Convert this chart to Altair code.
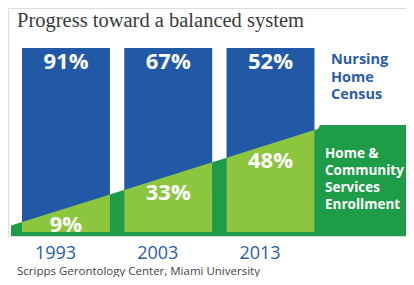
import altair as alt
import pandas as pd
import numpy as np

# ---- data ----
years = [1993, 2003, 2013]
nursing_pct = [91, 67, 52]
home_pct = [9, 33, 48]

# decorative rising band (year position, height in % of bar)
band_years = [1987.62, 2017.65, 2017.84, 2026.25]
band_values = [3.5, 56.0, 58.2, 58.2]

title_text = "Progress toward a balanced system"
source_text = "Scripps Gerontology Center, Miami University"
nursing_label = ["Nursing", "Home", "Census"]
home_label = ["Home &", "Community", "Services", "Enrollment"]

# ---- styling ----
BLUE = "#2159a6"
TEXT_BLUE = "#2a5caa"
DARK_GREEN = "#1e9c48"
LIGHT_GREEN = "#8cc63f"
HALF = 4.3
W, H = 398, 228
X_DOMAIN = [1987.33, 2026.25]
Y_DOMAIN = [-2.17, 121.74]
FONT = "Open Sans"

xs = alt.Scale(domain=X_DOMAIN, nice=False, zero=False)
ys = alt.Scale(domain=Y_DOMAIN, nice=False, zero=False)

bars = pd.DataFrame({"year": years, "nursing": nursing_pct, "home": home_pct,
                     "nl": [f"{v}%" for v in nursing_pct],
                     "hl": [f"{v}%" for v in home_pct]})
bars["left"] = bars["year"] - HALF
bars["right"] = bars["year"] + HALF
bars["line_c"] = np.interp(bars["year"], band_years, band_values)

band = pd.DataFrame({"year": band_years, "v": band_values})

rows = []
for y in years:
    for e in (y - HALF, y + HALF):
        rows.append({"bar": y, "x": e, "v": float(np.interp(e, band_years, band_values))})
inner = pd.DataFrame(rows)

xaxis = alt.Axis(values=years, format="d", domain=False, ticks=False, tickSize=0,
                 grid=False, labelColor=TEXT_BLUE, labelFontSize=18, labelFont=FONT,
                 labelPadding=8, labelOffset=-11, title=None)

dark = alt.Chart(band).mark_area(color=DARK_GREEN).encode(
    x=alt.X("year:Q", scale=xs, axis=xaxis),
    y=alt.Y("v:Q", scale=ys, axis=None, stack=None),
    y2=alt.value(H),
)

blue = alt.Chart(bars).mark_rect(color=BLUE).encode(
    x=alt.X("left:Q", scale=xs),
    x2="right:Q",
    y=alt.datum(100, scale=ys),
    y2=alt.datum(0),
)

light = alt.Chart(inner).mark_area(color=LIGHT_GREEN).encode(
    x=alt.X("x:Q", scale=xs),
    y=alt.Y("v:Q", scale=ys, stack=None),
    y2=alt.datum(0),
    detail="bar:N",
)

top_lbl = alt.Chart(bars).mark_text(color="white", font=FONT, fontWeight="bold",
                                    fontSize=22, baseline="middle", dy=14).encode(
    x=alt.X("year:Q", scale=xs),
    y=alt.datum(100, scale=ys),
    text="nl:N",
)

bot_lbl = alt.Chart(bars).mark_text(color="white", font=FONT, fontWeight="bold",
                                    fontSize=22, baseline="middle", dy=17).encode(
    x=alt.X("year:Q", scale=xs),
    y=alt.Y("line_c:Q", scale=ys),
    text="hl:N",
)

one = pd.DataFrame({"k": [0]})

title = alt.Chart(one).mark_text(font="Liberation Serif", fontSize=20.5, color="#3a3a3a",
                                 align="left", baseline="alphabetic").encode(
    x=alt.value(9), y=alt.value(19), text=alt.value(title_text))

source = alt.Chart(one).mark_text(font=FONT, fontSize=11.5, color="#444444",
                                  align="left", baseline="alphabetic").encode(
    x=alt.value(9), y=alt.value(266.5), text=alt.value(source_text))

nl = alt.Chart(one).mark_text(font=FONT, fontSize=14.5, fontWeight="bold", color=TEXT_BLUE,
                              align="left", baseline="top", lineHeight=17.5).encode(
    x=alt.value(323), y=alt.value(45), text=alt.value(nursing_label))

hl = alt.Chart(one).mark_text(font=FONT, fontSize=13.5, fontWeight="bold", color="white",
                              align="left", baseline="top", lineHeight=17).encode(
    x=alt.value(317), y=alt.value(139), text=alt.value(home_label))

chart = alt.layer(dark, blue, light, top_lbl, bot_lbl, title, source, nl, hl).properties(
    width=W, height=H,
    autosize=alt.AutoSizeParams(type="none"),
    padding={"left": 0, "top": 0, "right": 0, "bottom": 41},
).configure_view(stroke=None).configure(background="white")

chart.save("out.html", embed_options={"renderer": "svg", "actions": False})
